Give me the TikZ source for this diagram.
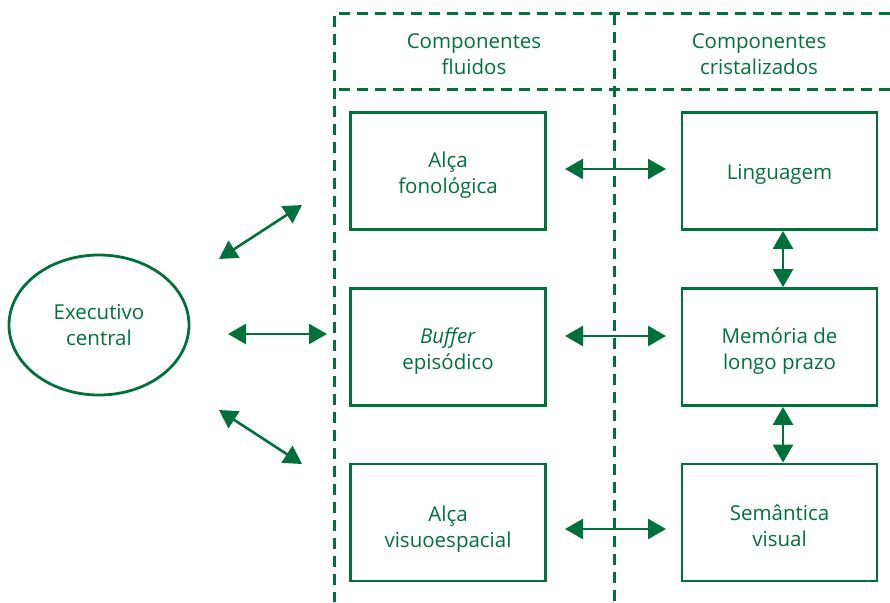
\documentclass[tikz,border=0pt]{standalone}
\usepackage{fontspec}
\setmainfont{Open Sans}
\usetikzlibrary{arrows.meta,shapes.geometric}
\definecolor{dgreen}{RGB}{0,112,60}
\begin{document}
\begin{tikzpicture}[x=1pt,y=-1pt,
  every node/.style={text=dgreen,font=\fontsize{20.5}{26}\selectfont,align=center},
  compbox/.style={draw=dgreen,line width=2.8pt,minimum width=195pt,minimum height=117pt,inner sep=0pt},
  frame/.style={draw=dgreen,line width=3pt,dash pattern=on 11pt off 7pt},
  link/.style={draw=dgreen,line width=2.6pt,{Triangle[length=18pt,width=20pt]}-{Triangle[length=18pt,width=20pt]}}]
\useasboundingbox (0,0) rectangle (890,602);
% dashed frame of the two columns
\coordinate (tl) at (334,14);
\coordinate (tr) at (890,14);
\coordinate (ml) at (334,89);
\coordinate (mr) at (890,89);
\coordinate (cTop) at (614,14);
\coordinate (cBot) at (614,602);
\coordinate (lBot) at (334,602);
\draw[frame] (tr) -- (tl) -- (lBot);
\draw[frame] (mr) -- (ml);
\draw[frame] (cTop) -- (cBot);
\node (hf) at (474,54) {Componentes\\fluidos};
\node (hc) at (759,54) {Componentes\\cristalizados};
% boxes
\node[compbox] (af) at (448,171) {};
\node[compbox] (be) at (448,347) {};
\node[compbox] (av) at (448,522.5) {};
\node[compbox] (li) at (779.5,171) {};
\node[compbox] (ml2) at (779.5,347) {};
\node[compbox] (sv) at (779.5,522.5) {};
% box labels (canvas y grows upwards, so a negative shift moves them down)
\node (tf) at ([yshift=-4pt]af.center) {Alça\\fonológica};
\node (tb) at ([yshift=-4.5pt]be.center) {\textit{Buffer}\\episódico};
\node (tv) at ([yshift=-6.5pt]av.center) {Alça\\visuoespacial};
\node (tl2) at ([yshift=-3pt]li.center) {Linguagem};
\node (tm) at ([yshift=-4.5pt]ml2.center) {Memória de\\longo prazo};
\node (ts) at ([yshift=-3.5pt]sv.center) {Semântica\\visual};
% central executive
\node[draw=dgreen,line width=2.8pt,ellipse,minimum width=180pt,minimum height=140pt,inner sep=0pt] (ec) at (99,325) {Executivo\\central};
% arrow end points
\coordinate (a1s) at (219,259);
\coordinate (a1e) at (302,205);
\coordinate (a2s) at (228,334);
\coordinate (a2e) at (327,334);
\coordinate (a3s) at (219,410);
\coordinate (a3e) at (302,464);
\coordinate (h1s) at (565,169);
\coordinate (h1e) at (666,169);
\coordinate (h2s) at (565,336);
\coordinate (h2e) at (666,336);
\coordinate (h3s) at (565,529);
\coordinate (h3e) at (666,529);
\draw[link] (a1s) -- (a1e);
\draw[link] (a2s) -- (a2e);
\draw[link] (a3s) -- (a3e);
\draw[link] (h1s) -- (h1e);
\draw[link] (h2s) -- (h2e);
\draw[link] (h3s) -- (h3e);
\draw[link] (li.south -| 783,0) -- (ml2.north -| 783,0);
\draw[link] (ml2.south -| 783,0) -- (sv.north -| 783,0);
\end{tikzpicture}
\end{document}
